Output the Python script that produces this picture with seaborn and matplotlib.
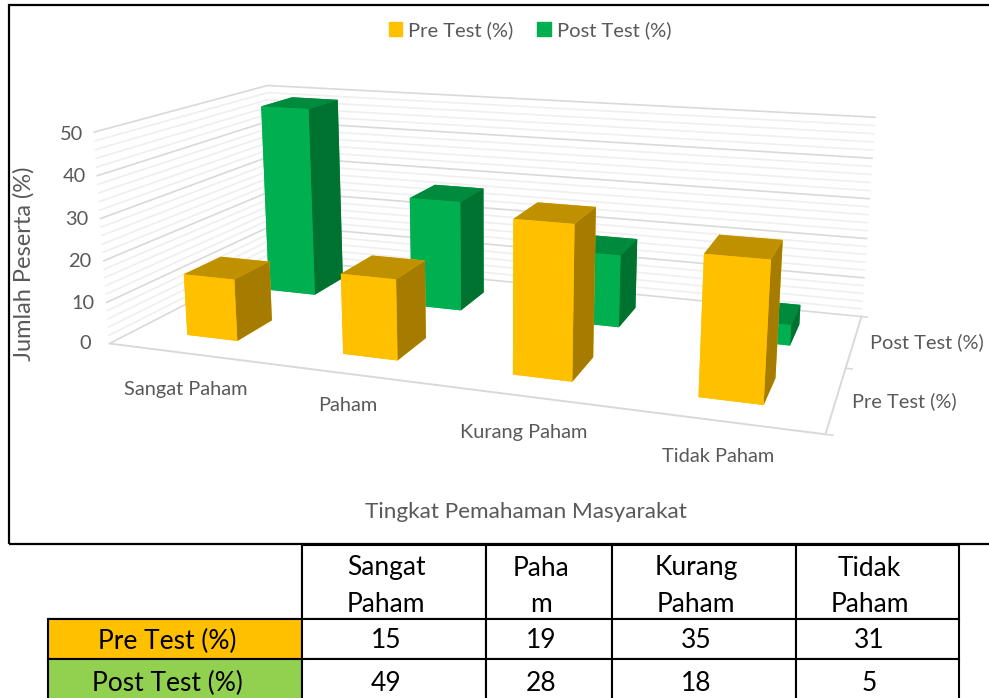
import pandas as pd
import matplotlib
matplotlib.use("Agg")
import matplotlib.pyplot as plt
import seaborn as sns
from matplotlib.patches import Patch, Rectangle
from matplotlib.transforms import Affine2D

# --- DATA ---
categories = ["Sangat Paham", "Paham", "Kurang Paham", "Tidak Paham"]
table_headers = ["Sangat\nPaham", "Paha\nm", "Kurang\nPaham", "Tidak\nPaham"]
series_names = ["Pre Test (%)", "Post Test (%)"]
pre_test = [15, 19, 35, 31]
post_test = [49, 28, 18, 5]
major_ticks = [0, 10, 20, 30, 40, 50]
minor_ticks = [2, 4, 6, 8, 12, 14, 16, 18, 22, 24, 26, 28, 32, 34, 36, 38, 42, 44, 46, 48]

# --- CONFIG ---
W, H = 989, 698
BAR_W = 0.33
BAR_D = 0.42
TEXT_GREY = "#595959"
MAJOR_GRID = "#D9D9D9"
MINOR_GRID = "#EFEFEF"
# faces: bottom, top, front, back, left, right
YELLOW_FACES = ["#FFC000", "#BF9000", "#FFC000", "#FFC000", "#FFC000", "#A67C00"]
GREEN_FACES = ["#00B050", "#008A3E", "#00B050", "#00B050", "#00B050", "#007230"]

sns.set_theme(style="white")
plt.rcParams["font.family"] = ["Lato", "DejaVu Sans"]


def px_text(x, y, s, **kw):
    kw.setdefault("color", TEXT_GREY)
    kw.setdefault("ha", "center")
    kw.setdefault("va", "center")
    kw.setdefault("fontsize", 14.4)
    fig.text(x / W, 1 - (y + 1.5) / H, s, **kw)


def draw_bars(ax, values, y_center, faces, z):
    xs = [i + 0.5 - BAR_W / 2 for i in range(len(values))]
    ys = [y_center - BAR_D / 2] * len(values)
    bars = ax.bar3d(xs, ys, [0] * len(values), BAR_W, BAR_D, values,
                    color=faces * len(values), shade=False, linewidth=0)
    bars.set_zorder(z)
    bars.set_clip_on(False)


def draw_chart(fig):
    ax = fig.add_axes([0.0998, 0.1014, 0.7842, 1.1111], projection="3d")
    ax.view_init(elev=13.987, azim=-70.531)
    ax.set_proj_type("persp", focal_length=0.324)
    ax.set_box_aspect((4, 1.95, 1.221))
    ax.set_xlim(0, 4)
    ax.set_ylim(0, 2)
    ax.set_zlim(0, 50)
    ax.set_axis_off()
    ax.computed_zorder = False

    # walls
    for ticks, col in ((minor_ticks, MINOR_GRID), (major_ticks, MAJOR_GRID)):
        for t in ticks:
            ax.plot([0, 0, 4], [0, 2, 2], [t, t, t], color=col, lw=1.2, clip_on=False, zorder=1)

    # floor edges and depth ticks
    ax.plot([0, 4, 4], [0, 0, 2], [0, 0, 0], color=MAJOR_GRID, lw=1.4, clip_on=False, zorder=1)
    for y in (0, 1, 2):
        ax.plot([4, 4.035], [y, y], [0, 0], color=MAJOR_GRID, lw=1.2, clip_on=False, zorder=1)

    draw_bars(ax, post_test, 1.5, GREEN_FACES, 2)
    draw_bars(ax, pre_test, 0.5, YELLOW_FACES, 3)


def draw_labels(fig):
    for t, x, y in zip(major_ticks, [85, 83, 80, 77, 74, 71], [342, 302, 260, 218, 175, 133]):
        px_text(x, y, str(t))
    for c, x, y in zip(categories, [186, 348, 524, 718], [388, 404, 431, 455]):
        px_text(x, y, c)
    px_text(927, 341, series_names[1])
    px_text(904, 400, series_names[0])
    px_text(526, 511, "Tingkat Pemahaman Masyarakat", fontsize=16.2)
    px_text(24, 262, "Jumlah Peserta (%)", rotation=90, fontsize=17)

    handles = [Patch(color="#FFC000"), Patch(color="#00B050")]
    fig.legend(handles, series_names, ncol=2, loc="center", bbox_to_anchor=(530 / W, 1 - 30 / H),
               frameon=False, handlelength=0.65, handleheight=0.65, handletextpad=0.3,
               columnspacing=1.2, prop={"size": 14.5}, labelcolor=TEXT_GREY)

    fig.add_artist(Rectangle((9 / W, 1 - 544 / H), 1.0, 539 / H, transform=fig.transFigure,
                             fill=False, edgecolor="black", lw=1.6))


def draw_table(fig):
    tax = fig.add_axes([48 / W, 1 - 704 / H, 911 / W, 159 / H])
    tax.axis("off")
    df = pd.DataFrame([pre_test, post_test], index=series_names, columns=table_headers)
    rows = [[""] + table_headers] + [[name] + df.loc[name].tolist() for name in series_names]
    col_px = [254, 184, 126, 184, 163]
    row_px = [74, 40, 45]
    colours = [["white"] * 5, ["#FFC000"] + ["white"] * 4, ["#92D050"] + ["white"] * 4]
    tb = tax.table(cellText=rows, cellColours=colours, colWidths=[c / 911 for c in col_px],
                   cellLoc="center", bbox=[0, 0, 1, 1])
    tb.auto_set_font_size(False)
    for (r, c), cell in tb.get_celld().items():
        cell.set_height(row_px[r] / 159)
        cell.set_linewidth(1.5)
        cell.set_edgecolor("black")
        txt = cell.get_text()
        txt.set_fontsize(19)
        txt.set_color("black")
        txt.set_linespacing(1.6)
        # the text in the reference sits a little left of the cell centre
        txt.set_transform(Affine2D().translate(-8, -4.5 if r == 0 else -2))
    tb[0, 0].visible_edges = "BR"


if __name__ == "__main__":
    fig = plt.figure(figsize=(W / 100, H / 100), dpi=100, facecolor="white")
    draw_chart(fig)
    draw_labels(fig)
    draw_table(fig)
    fig.savefig("out.png", dpi=100)
